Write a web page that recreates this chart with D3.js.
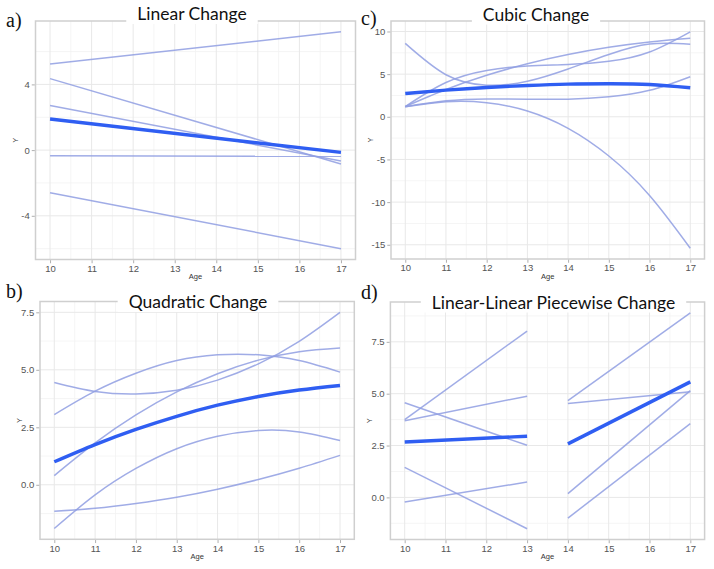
<!DOCTYPE html>
<html><head><meta charset="utf-8">
<script src="https://cdn.jsdelivr.net/npm/d3@7"></script>
<style>body{margin:0;background:#fff}svg{display:block}</style>
</head><body>
<svg id="chart" width="714" height="569"></svg>
<script>
// ---------------- DATA ----------------
const ages = [10, 11, 12, 13, 14, 15, 16, 17];
const xTicks = [10, 11, 12, 13, 14, 15, 16, 17];

// a) Linear change
const linearAges = [10, 17];
const linearIndividuals = [
  [5.24, 7.20],
  [4.35, -0.85],
  [2.72, -0.67],
  [-0.35, -0.38],
  [-2.60, -6.00]
];
const linearMean = [1.89, -0.14];
const linearYTicks = [-4, 0, 4];
const linearYLabels = ["-4", "0", "4"];

// c) Cubic change
const cubicIndividuals = [
  [8.60, 4.93, 3.70, 4.17, 5.61, 7.30, 8.52, 8.50],
  [1.20, 4.02, 5.43, 5.95, 6.13, 6.50, 7.60, 9.96],
  [1.20, 3.20, 4.86, 6.22, 7.30, 8.14, 8.76, 9.20],
  [1.17, 1.87, 2.09, 2.07, 2.07, 2.34, 3.10, 4.70],
  [1.17, 1.76, 1.65, 0.67, -1.36, -4.60, -9.22, -15.40]
];
const cubicMean = [2.73, 3.12, 3.44, 3.67, 3.83, 3.87, 3.79, 3.40];
const cubicYTicks = [-15, -10, -5, 0, 5, 10];
const cubicYLabels = ["-15", "-10", "-5", "0", "5", "10"];

// b) Quadratic change
const quadraticIndividuals = [
  [0.40, 1.82, 3.04, 4.04, 4.83, 5.42, 5.79, 5.95],
  [4.45, 4.06, 3.95, 4.11, 4.55, 5.26, 6.24, 7.50],
  [3.05, 4.07, 4.85, 5.40, 5.65, 5.65, 5.40, 4.90],
  [-1.90, -0.44, 0.71, 1.57, 2.11, 2.36, 2.30, 1.93],
  [-1.15, -1.02, -0.81, -0.54, -0.19, 0.23, 0.72, 1.28]
];
const quadraticMean = [1.00, 1.75, 2.41, 2.98, 3.46, 3.84, 4.12, 4.32];
const quadraticYTicks = [0, 2.5, 5, 7.5];
const quadraticYLabels = ["0.0", "2.5", "5.0", "7.5"];

// d) Linear-linear piecewise change
const pieceAges1 = [10, 13];
const pieceAges2 = [14, 17];
const pieceIndividuals1 = [
  [3.75, 8.02],
  [3.70, 4.88],
  [4.56, 2.51],
  [-0.22, 0.74],
  [1.45, -1.51]
];
const pieceMean1 = [2.67, 2.95];
const pieceIndividuals2 = [
  [4.67, 8.90],
  [4.53, 5.09],
  [0.18, 5.15],
  [-1.00, 3.56]
];
const pieceMean2 = [2.58, 5.57];
const pieceYTicks = [0, 2.5, 5, 7.5];
const pieceYLabels = ["0.0", "2.5", "5.0", "7.5"];

// ---------------- LAYOUT ----------------
const panels = [
  { letter: "a)", title: "Linear Change",
    box: {l: 35.5, r: 355.5, t: 21, b: 259.5},
    titleX: 192, titleY: 20, letterX: 6, letterY: 27,
    series: [{x: linearAges, ys: linearIndividuals, mean: linearMean}],
    yTicks: linearYTicks, yLabels: linearYLabels, curve: d3.curveLinear },
  { letter: "c)", title: "Cubic Change",
    box: {l: 391, r: 704.5, t: 21, b: 259},
    titleX: 536, titleY: 20.5, letterX: 361, letterY: 25,
    series: [{x: ages, ys: cubicIndividuals, mean: cubicMean}],
    yTicks: cubicYTicks, yLabels: cubicYLabels, curve: d3.curveNatural },
  { letter: "b)", title: "Quadratic Change",
    box: {l: 40, r: 354.3, t: 301.5, b: 539.3},
    titleX: 198, titleY: 308, letterX: 6, letterY: 298,
    series: [{x: ages, ys: quadraticIndividuals, mean: quadraticMean}],
    yTicks: quadraticYTicks, yLabels: quadraticYLabels, curve: d3.curveNatural },
  { letter: "d)", title: "Linear-Linear Piecewise Change",
    box: {l: 390.4, r: 704.6, t: 302, b: 539.5},
    titleX: 553.5, titleY: 308.5, letterX: 361, letterY: 299,
    series: [{x: pieceAges1, ys: pieceIndividuals1, mean: pieceMean1},
             {x: pieceAges2, ys: pieceIndividuals2, mean: pieceMean2}],
    yTicks: pieceYTicks, yLabels: pieceYLabels, curve: d3.curveLinear }
];

const svg = d3.select("#chart");
svg.append("rect").attr("width", 714).attr("height", 569).attr("fill", "#fff");

const thinColor = "#8f9de2";
const meanColor = "#2f5ef2";

panels.forEach(p => {
  const g = svg.append("g");
  const B = p.box;
  // y extent with 5% expansion (ggplot default)
  const allVals = p.series.flatMap(s => s.ys.flat().concat(s.mean));
  const [ymin, ymax] = d3.extent(allVals);
  const yPad = (ymax - ymin) * 0.05;
  const xPad = (17 - 10) * 0.05;
  const x = d3.scaleLinear().domain([10 - xPad, 17 + xPad]).range([B.l, B.r]);
  const y = d3.scaleLinear().domain([ymin - yPad, ymax + yPad]).range([B.b, B.t]);

  // minor gridlines
  const step = p.yTicks[1] - p.yTicks[0];
  const yMinor = [];
  for (let v = p.yTicks[0] - step / 2; v <= ymax + yPad; v += step) {
    if (v >= ymin - yPad) yMinor.push(v);
  }
  const xMinor = xTicks.slice(0, -1).map(v => v + 0.5);
  const grid = g.append("g");
  grid.selectAll(".ymn").data(yMinor).join("line")
    .attr("x1", B.l).attr("x2", B.r).attr("y1", d => y(d)).attr("y2", d => y(d))
    .attr("stroke", "#f3f3f3").attr("stroke-width", 0.8);
  grid.selectAll(".xmn").data(xMinor).join("line")
    .attr("y1", B.t).attr("y2", B.b).attr("x1", d => x(d)).attr("x2", d => x(d))
    .attr("stroke", "#f3f3f3").attr("stroke-width", 0.8);
  grid.selectAll(".ymj").data(p.yTicks).join("line")
    .attr("x1", B.l).attr("x2", B.r).attr("y1", d => y(d)).attr("y2", d => y(d))
    .attr("stroke", "#e8e8e8").attr("stroke-width", 1);
  grid.selectAll(".xmj").data(xTicks).join("line")
    .attr("y1", B.t).attr("y2", B.b).attr("x1", d => x(d)).attr("x2", d => x(d))
    .attr("stroke", "#e8e8e8").attr("stroke-width", 1);

  // lines
  const line = d3.line().x(d => x(d[0])).y(d => y(d[1])).curve(p.curve);
  p.series.forEach(s => {
    s.ys.forEach(vals => {
      g.append("path").attr("d", line(s.x.map((a, i) => [a, vals[i]])))
        .attr("fill", "none").attr("stroke", thinColor).attr("stroke-width", 1.5)
        .attr("stroke-opacity", 0.85);
    });
  });
  p.series.forEach(s => {
    g.append("path").attr("d", line(s.x.map((a, i) => [a, s.mean[i]])))
      .attr("fill", "none").attr("stroke", meanColor).attr("stroke-width", 3.4);
  });

  // frame
  g.append("rect").attr("x", B.l).attr("y", B.t).attr("width", B.r - B.l).attr("height", B.b - B.t)
    .attr("fill", "none").attr("stroke", "#cfcfcf").attr("stroke-width", 1.5);

  // axes
  const xAxis = g.append("g").attr("transform", `translate(0,${B.b + 0.75})`)
    .call(d3.axisBottom(x).tickValues(xTicks).tickFormat(d3.format("d")).tickSize(3).tickPadding(2));
  const yAxis = g.append("g").attr("transform", `translate(${B.l - 0.75},0)`)
    .call(d3.axisLeft(y).tickValues(p.yTicks).tickFormat((d, i) => p.yLabels[i]).tickSize(3).tickPadding(2));
  [xAxis, yAxis].forEach(a => {
    a.select(".domain").remove();
    a.selectAll("line").attr("stroke", "#9a9a9a").attr("stroke-width", 0.8);
    a.selectAll("text").attr("fill", "#555").style("font-family", "Liberation Sans, Arial, sans-serif")
      .style("font-size", "9.5px");
  });

  // axis titles
  g.append("text").attr("x", (B.l + B.r) / 2).attr("y", B.b + 19.5).attr("text-anchor", "middle")
    .style("font-family", "Liberation Sans, Arial, sans-serif").style("font-size", "7.5px").attr("fill", "#333")
    .text("Age");
  g.append("text").attr("transform", `translate(${B.l - 18},${(B.t + B.b) / 2}) rotate(-90)`)
    .attr("text-anchor", "middle")
    .style("font-family", "Liberation Sans, Arial, sans-serif").style("font-size", "7.5px").attr("fill", "#333")
    .text("Y");

  // title with white backing
  const tg = g.append("g");
  const tRect = tg.append("rect").attr("fill", "#fff");
  const tText = tg.append("text").attr("x", p.titleX).attr("y", p.titleY).attr("text-anchor", "middle")
    .style("font-family", "Lato, 'Open Sans', sans-serif").style("font-size", "17.5px").attr("fill", "#111")
    .text(p.title);
  const bb = tText.node().getBBox();
  tRect.attr("x", bb.x - 11).attr("width", bb.width + 22).attr("y", p.titleY - 15).attr("height", 19);

  // panel letter
  g.append("text").attr("x", p.letterX).attr("y", p.letterY)
    .style("font-family", "Liberation Serif, 'Times New Roman', serif").style("font-size", "20px").attr("fill", "#111")
    .text(p.letter);
});
</script>
</body></html>
